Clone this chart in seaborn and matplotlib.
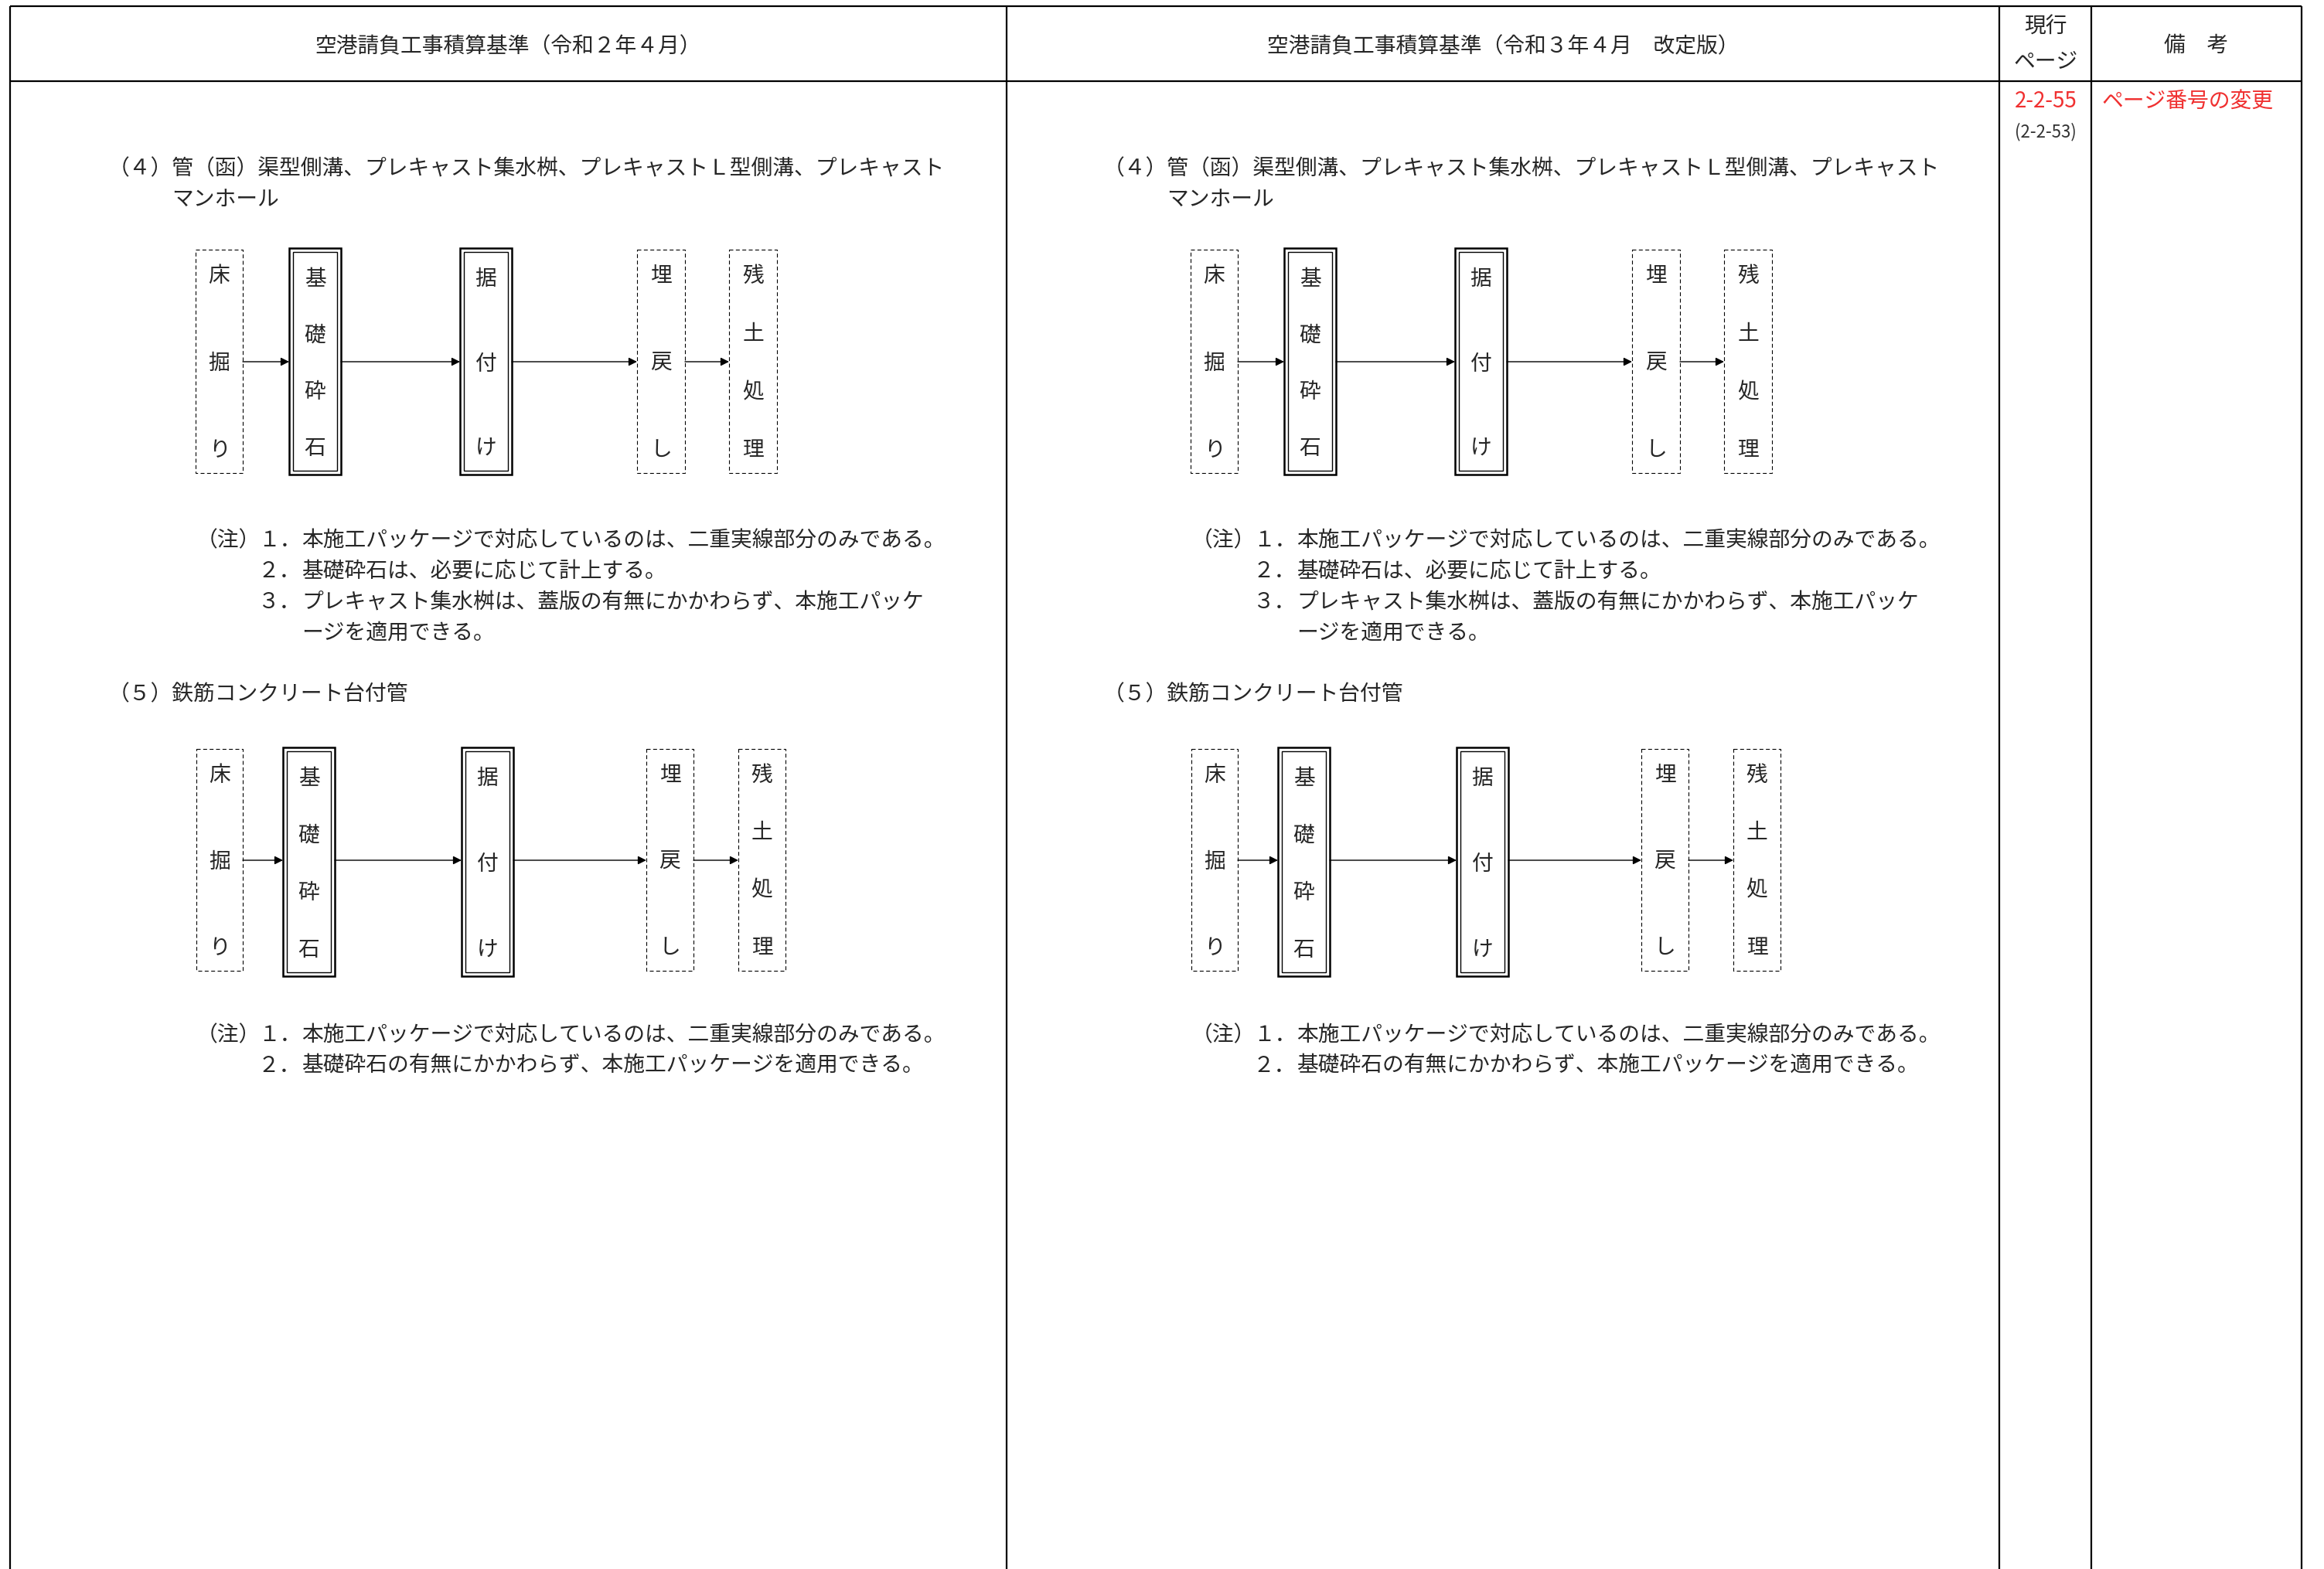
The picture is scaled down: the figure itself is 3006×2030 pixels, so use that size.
import matplotlib
matplotlib.use("Agg")
import matplotlib.pyplot as plt
from matplotlib.patches import Rectangle
import seaborn as sns

sns.set_theme(style="white")
plt.rcParams['font.family'] = ['Noto Sans CJK JP', 'DejaVu Sans']

# ---- data ----
header_old = "空港請負工事積算基準（令和２年４月）"
header_new = "空港請負工事積算基準（令和３年４月　改定版）"
header_page = ["現行", "ページ"]
header_note = "備　考"
page_new = "2-2-55"
page_old = "(2-2-53)"
remark = "ページ番号の変更"

title4 = ["（４）管（函）渠型側溝、プレキャスト集水桝、プレキャストＬ型側溝、プレキャスト",
          "マンホール"]
title5 = ["（５）鉄筋コンクリート台付管"]

flow_labels = ["床掘り", "基礎砕石", "据付け", "埋戻し", "残土処理"]
flow_double = [False, True, True, False, False]   # 二重実線 = package scope

notes4 = [("（注）", "１．", "本施工パッケージで対応しているのは、二重実線部分のみである。"),
          ("", "２．", "基礎砕石は、必要に応じて計上する。"),
          ("", "３．", "プレキャスト集水桝は、蓋版の有無にかかわらず、本施工パッケ"),
          ("", "", "ージを適用できる。")]
notes5 = [("（注）", "１．", "本施工パッケージで対応しているのは、二重実線部分のみである。"),
          ("", "２．", "基礎砕石の有無にかかわらず、本施工パッケージを適用できる。")]

# ---- layout (pixel space) ----
W, H = 3006, 2030
col_x = [13, 1302, 2586, 2705, 2977]
top_y, head_y = 8, 105
dx_new = 1287
FS = 20
RED = '#f03030'

flow1_x = [(253, 314), (374, 441), (595, 662), (824, 886), (943, 1005)]
flow2_x = [(254, 314), (366, 433), (597, 664), (836, 897), (955, 1016)]
flow1_y = dict(dash=(323, 612), double=(321, 614), arrow=468)
flow2_y = dict(dash=(969, 1256), double=(967, 1263), arrow=1113)

fig = plt.figure(figsize=(W / 100, H / 100), dpi=100)
ax = fig.add_axes([0, 0, 1, 1])
ax.set_xlim(0, W)
ax.set_ylim(H, 0)
ax.axis('off')

# table grid
for x in col_x:
    ax.plot([x, x], [top_y, H], color='black', lw=1.6, solid_capstyle='butt')
for y in [top_y, head_y]:
    ax.plot([col_x[0], col_x[-1]], [y, y], color='black', lw=1.6, solid_capstyle='butt')

# header
ax.text((col_x[0] + col_x[1]) / 2, 60, header_old, fontsize=FS, ha='center', va='center')
ax.text((col_x[1] + col_x[2]) / 2, 60, header_new, fontsize=FS, ha='center', va='center')
ax.text(2646, 35, header_page[0], fontsize=FS, ha='center', va='center')
ax.text(2646, 80, header_page[1], fontsize=FS, ha='center', va='center')
ax.text(2841, 59, header_note, fontsize=FS, ha='center', va='center')
ax.text(2646, 131, page_new, fontsize=FS, ha='center', va='center', color=RED)
ax.text(2646, 171, page_old, fontsize=16, ha='center', va='center', color='#333333')
ax.text(2718, 131, remark, fontsize=FS, ha='left', va='center', color=RED)


def draw_flow(xs, ys, off):
    ay = ys['arrow']
    for (x0, x1), label, dbl in zip(xs, flow_labels, flow_double):
        x0 += off
        x1 += off
        if dbl:
            y0, y1 = ys['double']
            ax.add_patch(Rectangle((x0, y0), x1 - x0, y1 - y0, fill=False,
                                   ec='black', lw=1.8))
            ax.add_patch(Rectangle((x0 + 5, y0 + 5), x1 - x0 - 10, y1 - y0 - 10,
                                   fill=False, ec='black', lw=1.0))
            t0, t1 = y0 + 40, y1 - 34
        else:
            y0, y1 = ys['dash']
            ax.add_patch(Rectangle((x0, y0), x1 - x0, y1 - y0, fill=False,
                                   ec='black', lw=0.8, ls=(0, (4.5, 3))))
            t0, t1 = y0 + 34, y1 - 30
        n = len(label)
        for i, ch in enumerate(label):
            ty = t0 + (t1 - t0) * i / (n - 1)
            ax.text((x0 + x1) / 2, ty, ch, fontsize=FS, ha='center', va='center')
    for (a, b) in zip(xs[:-1], xs[1:]):
        ax.annotate('', xy=(b[0] + off, ay), xytext=(a[1] + off, ay),
                    arrowprops=dict(arrowstyle='-|>', color='black', lw=1.0,
                                    mutation_scale=16, shrinkA=0, shrinkB=0))


def draw_notes(notes, y0, off):
    for i, (a, b, c) in enumerate(notes):
        y = y0 + i * 40
        if a:
            ax.text(254 + off, y, a, fontsize=FS, ha='left', va='center')
        if b:
            ax.text(334 + off, y, b, fontsize=FS, ha='left', va='center')
        ax.text(390 + off, y, c, fontsize=FS, ha='left', va='center')


for off in [0, dx_new]:
    ax.text(140 + off, 218, title4[0], fontsize=FS, ha='left', va='center')
    ax.text(222 + off, 258, title4[1], fontsize=FS, ha='left', va='center')
    draw_flow(flow1_x, flow1_y, off)
    draw_notes(notes4, 699, off)
    ax.text(140 + off, 898, title5[0], fontsize=FS, ha='left', va='center')
    draw_flow(flow2_x, flow2_y, off)
    draw_notes(notes5, 1339, off)

fig.savefig('out.png', dpi=100, facecolor='white')
